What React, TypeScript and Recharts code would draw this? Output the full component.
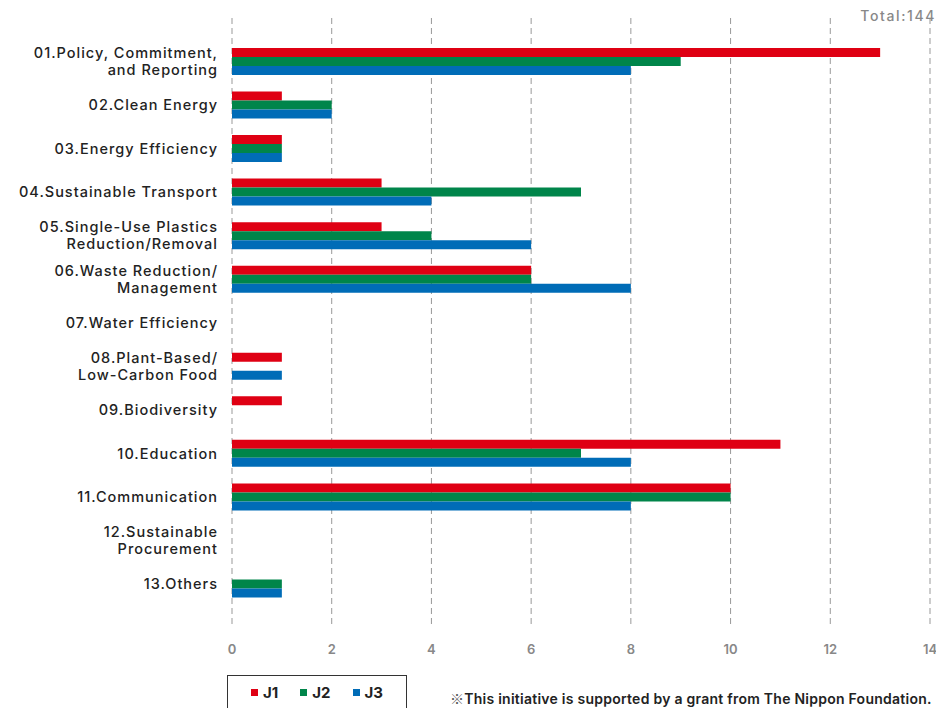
import React from "react";
import { BarChart, Bar, XAxis, YAxis, CartesianGrid } from "recharts";

const categories = [
  "01.Policy, Commitment,|and Reporting",
  "02.Clean Energy",
  "03.Energy Efficiency",
  "04.Sustainable Transport",
  "05.Single-Use Plastics|Reduction/Removal",
  "06.Waste Reduction/|Management",
  "07.Water Efficiency",
  "08.Plant-Based/|Low-Carbon Food",
  "09.Biodiversity",
  "10.Education",
  "11.Communication",
  "12.Sustainable|Procurement",
  "13.Others",
];
const j1 = [13, 1, 1, 3, 3, 6, 0, 1, 1, 11, 10, 0, 0];
const j2 = [9, 2, 1, 7, 4, 6, 0, 0, 0, 7, 10, 0, 1];
const j3 = [8, 2, 1, 4, 6, 8, 0, 1, 0, 8, 8, 0, 1];
const xTicks = [0, 2, 4, 6, 8, 10, 12, 14];
const seriesNames = ["J1", "J2", "J3"];
const colors = ["#DF0013", "#00854A", "#006CB7"];
const totalLabel = "Total:144";
const footnoteMark = "※";
const footnote = "This initiative is supported by a grant from The Nippon Foundation.";

const data = categories.map((c, i) => ({ name: c, J1: j1[i], J2: j2[i], J3: j3[i] }));

const FONT = "Inter, 'Noto Sans', sans-serif";

const YTick = (props: any) => {
  const { x, y, payload } = props;
  const lines = String(payload.value).split("|");
  const lh = 17;
  const start = y - ((lines.length - 1) * lh) / 2;
  return (
    <text
      x={x}
      y={start}
      textAnchor="end"
      fill="#222"
      fontSize={14.5}
      fontWeight={500}
      fontFamily={FONT}
      letterSpacing={1}
    >
      {lines.map((l, i) => (
        <tspan key={i} x={x} y={start + i * lh} dy="0.35em">
          {l}
        </tspan>
      ))}
    </text>
  );
};

export default function App() {
  return (
    <div style={{ position: "absolute", left: 0, top: 0, width: 936, height: 708, overflow: "hidden", background: "#fff" }}>
      <BarChart
        width={936}
        height={708}
        data={data}
        layout="vertical"
        margin={{ top: 18, right: 6, left: 0, bottom: 50 }}
        barSize={9}
        barGap={0}
      >
        <CartesianGrid horizontal={false} stroke="#999" strokeDasharray="6 4" />
        <XAxis
          type="number"
          domain={[0, 14]}
          ticks={xTicks}
          axisLine={false}
          tickLine={false}
          tickMargin={11}
          tick={{ fill: "#888", fontSize: 13, fontWeight: 600, fontFamily: FONT }}
          interval={0}
        />
        <YAxis
          type="category"
          dataKey="name"
          width={232}
          axisLine={false}
          tickLine={false}
          tickMargin={8}
          tick={<YTick />}
          interval={0}
          padding={{ top: 22, bottom: 22 }}
        />
        {seriesNames.map((s, i) => (
          <Bar key={s} dataKey={s} name={s} fill={colors[i]} isAnimationActive={false} />
        ))}
      </BarChart>
      <div
        style={{
          position: "absolute",
          left: 227,
          top: 675,
          width: 180,
          height: 40,
          border: "1px solid #333",
          boxSizing: "border-box",
          background: "#fff",
          display: "flex",
          alignItems: "flex-start",
          justifyContent: "center",
          paddingTop: 7,
          gap: 22,
          fontFamily: FONT,
          fontWeight: 700,
          fontSize: 15,
          color: "#222",
        }}
      >
        {seriesNames.map((s, i) => (
          <span key={s} style={{ display: "flex", alignItems: "center" }}>
            <span style={{ width: 7, height: 7, background: colors[i], marginRight: 5, display: "inline-block" }} />
            {s}
          </span>
        ))}
      </div>
      <div
        style={{
          position: "absolute",
          right: 0,
          top: 7,
          fontFamily: FONT,
          fontSize: 14,
          fontWeight: 500,
          color: "#888",
          letterSpacing: 1.6,
        }}
      >
        {totalLabel}
      </div>
      <div
        style={{
          position: "absolute",
          left: 450,
          top: 690,
          height: 17,
          lineHeight: "17px",
          whiteSpace: "nowrap",
          fontFamily: FONT,
          fontSize: 14,
          fontWeight: 600,
          color: "#222",
          letterSpacing: 0.25,
        }}
      >
        <span style={{ fontFamily: "'Noto Sans CJK JP', sans-serif", fontWeight: 400, color: "#555", lineHeight: "17px" }}>{footnoteMark}</span>
        {footnote}
      </div>
    </div>
  );
}
